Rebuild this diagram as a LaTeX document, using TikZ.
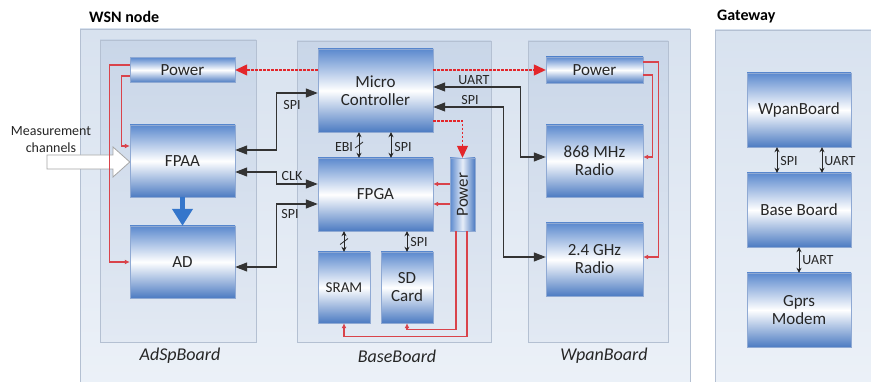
\documentclass[tikz,border=0pt]{standalone}
\usepackage{fontspec}
\setmainfont{Carlito}
\usetikzlibrary{arrows.meta,calc}
\definecolor{unittop}{HTML}{5B89CE}
\definecolor{unitbot}{HTML}{4C7BC2}
\definecolor{unitedge}{HTML}{8FA9D3}
\definecolor{outertop}{HTML}{D8E2EF}
\definecolor{outerbot}{HTML}{ECF1F8}
\definecolor{boardtop}{HTML}{C9D6E8}
\definecolor{boardbot}{HTML}{E2E9F3}
\definecolor{boxedge}{HTML}{B4C0D2}
\definecolor{pwrred}{HTML}{D9434B}
\definecolor{dashred}{HTML}{E3262B}
\definecolor{bigblue}{HTML}{3576CB}
\definecolor{txt}{HTML}{262626}
\begin{document}
\begin{tikzpicture}[x=1pt,y=-1pt,
  unit/.style={rectangle, draw=unitedge, line width=0.4pt, top color=unittop, bottom color=unitbot, middle color=white, text=txt, font=\fontsize{17}{19}\selectfont, align=center, inner sep=0pt},
  vunit/.style={rectangle, draw=unitedge, line width=0.4pt, left color=unittop, right color=unitbot, middle color=white!85!unittop, text=txt, font=\fontsize{17}{19}\selectfont, inner sep=0pt},
  lbl/.style={text=txt, font=\fontsize{14}{16}\selectfont, inner sep=0pt},
  boardlbl/.style={text=txt, font=\fontsize{18}{20}\selectfont\itshape, inner sep=0pt},
  title/.style={text=black, font=\fontsize{16}{18}\selectfont\bfseries, inner sep=0pt, anchor=west},
  outerbox/.style={draw=boxedge, line width=0.6pt, top color=outertop, bottom color=outerbot},
  boardbox/.style={draw=boxedge, line width=0.6pt, top color=boardtop, bottom color=boardbot},
  conn/.style={draw=black!80, line width=1.2pt, arrows={Triangle[length=12pt,width=9pt]-Triangle[length=12pt,width=9pt]}},
  pwr/.style={draw=pwrred, line width=1.2pt, arrows={-Latex[length=5pt,width=5pt]}},
  pwrd/.style={draw=dashred, line width=1.2pt, dash pattern=on 2.5pt off 1.5pt, arrows={-Triangle[length=12pt,width=11pt]}},
  bus/.style={draw=black!85, line width=0.8pt, arrows={Stealth[length=5pt,width=5pt]-Stealth[length=5pt,width=5pt]}},
  busmark/.style={draw=black!85, line width=0.8pt}
]
\useasboundingbox (0,0) rectangle (871,382);
\fill[white] (0,0) rectangle (871,382);

% boxes
\draw[outerbox] (80,29) rectangle (690,392);
\draw[outerbox] (715,30) rectangle (880,392);
\draw[boardbox] (100,40) rectangle (256,342);
\draw[boardbox] (297,41) rectangle (491,342);
\draw[boardbox] (528,41) rectangle (668,342);

% titles and board labels
\node[title] (twsn) at (89,17) {WSN node};
\node[title] (tgw) at (717,17) {Gateway};
\node[boardlbl] (ladsp) at (180,356) {AdSpBoard};
\node[boardlbl] (lbase) at (397,356) {BaseBoard};
\node[boardlbl] (lwpan) at (604,356) {WpanBoard};

% AdSpBoard
\node[unit, minimum width=105, minimum height=25] (lpower) at (182.5,70) {Power};
\node[unit, minimum width=105, minimum height=72] (fpaa) at (182.5,161) {FPAA};
\node[unit, minimum width=105, minimum height=72] (ad) at (182.5,262) {AD};

% BaseBoard
\node[unit, minimum width=115, minimum height=83] (mc) at (375.5,90.5) {Micro\\[-1pt]Controller};
\node[unit, minimum width=115, minimum height=73] (fpga) at (375.5,194.5) {FPGA};
\node[vunit, minimum width=25, minimum height=73] (pv) at (462.5,194.5) {\rotatebox{90}{Power}};
\node[unit, minimum width=52, minimum height=71, font=\fontsize{15}{17}\selectfont] (sram) at (344,287.5) {SRAM};
\node[unit, minimum width=52, minimum height=71] (sd) at (407,287.5) {SD\\[-1pt]Card};

% WpanBoard
\node[unit, minimum width=97, minimum height=26] (rpower) at (594.5,70) {Power};
\node[unit, minimum width=97, minimum height=72] (r868) at (594.5,161) {868 MHz\\[-1pt]Radio};
\node[unit, minimum width=97, minimum height=73] (r24) at (594.5,259.5) {2.4 GHz\\[-1pt]Radio};

% Gateway
\node[unit, minimum width=104, minimum height=74] (gw) at (799,110) {WpanBoard};
\node[unit, minimum width=104, minimum height=74] (gb) at (799,210) {Base Board};
\node[unit, minimum width=104, minimum height=74] (gm) at (799,310) {Gprs\\[-1pt]Modem};

% measurement channels
\node[lbl, align=center, font=\fontsize{14}{17}\selectfont] (meas) at (51,140) {Measurement\\channels};
\draw[draw=gray!70, fill=white, line width=0.8pt] (47,155) -- (113,155) -- (113,147) -- (fpaa.west |- 0,162) -- (113,177) -- (113,169) -- (47,169) -- cycle;

% FPAA -> AD
\draw[draw=bigblue, line width=5pt, arrows={-Triangle[length=17pt,width=20pt]}] (fpaa.south) -- (ad.north);

% black connectors
\draw[conn] ([yshift=11pt]fpaa.east) -- ++(41,0) |- ([yshift=-2.5pt]mc.west);
\draw[conn] ([yshift=-11pt]fpaa.east) -- ++(41,0) |- ([yshift=10.5pt]fpga.west);
\draw[conn] ([yshift=-5pt]ad.east) -- ++(41,0) |- ([yshift=-9.5pt]fpga.west);
\draw[conn] ([yshift=3.5pt]mc.east) -- ++(87,0) |- ([yshift=4pt]r868.west);
\draw[conn] ([yshift=-16.5pt]mc.east) -- ++(70,0) |- ([yshift=2.5pt]r24.west);
\node[lbl] (lspi1) at (292,105) {SPI};
\node[lbl] (lclk) at (292,176) {CLK};
\node[lbl] (lspi2) at (290,214) {SPI};
\node[lbl] (luart) at (474,80) {UART};
\node[lbl] (lspi3) at (470,100) {SPI};

% red power lines
\draw[pwrd] ([yshift=20.5pt]mc.west) -- (lpower.east);
\draw[pwrd] ([yshift=20.5pt]mc.east) -- (rpower.west);
\draw[pwrd] ([yshift=-30.5pt]mc.east) -| (pv.north);
\draw[pwr] ([yshift=5pt]lpower.west) -- ++(-20,0) |- (ad.west);
\draw[pwr] ([yshift=-6pt]lpower.west) -- ++(-8,0) |- ([yshift=15pt]fpaa.west);
\draw[pwr] ([yshift=8pt]rpower.east) -- ++(15,0) |- ([yshift=2.5pt]r24.east);
\draw[pwr] ([yshift=-5pt]rpower.east) -- ++(9,0) |- ([yshift=4pt]r868.east);
\draw[pwr] ([yshift=10.5pt]pv.west) -- ([yshift=10.5pt]fpga.east);
\draw[pwr] ([yshift=-9.5pt]pv.west) -- ([yshift=-9.5pt]fpga.east);
\draw[pwr] ([xshift=-6.5pt]pv.south) -- ++(0,98) -| (sd.south);
\draw[pwr] ([xshift=4.5pt]pv.south) -- ++(0,105) -| (sram.south);

% bus arrows
\draw[bus] ([xshift=-16.5pt]mc.south) -- coordinate (ebim) ([xshift=-16.5pt]fpga.north);
\draw[busmark] (ebim) ++(-4,3) -- ++(8,-6);
\draw[bus] ([xshift=15.5pt]mc.south) -- ([xshift=15.5pt]fpga.north);
\node[lbl] (lebi) at (344,147) {EBI};
\node[lbl] (lspi4) at (403,147) {SPI};
\draw[bus] (sram.north) -- coordinate (sramm) (sram.north |- fpga.south);
\draw[busmark] (sramm) ++(-4,3) -- ++(8,-6);
\draw[bus] (sd.north) -- (sd.north |- fpga.south);
\node[lbl] (lspi5) at (419,242) {SPI};

% gateway bus arrows
\draw[bus] ([xshift=-22pt]gw.south) -- ([xshift=-22pt]gb.north);
\draw[bus] ([xshift=23pt]gw.south) -- ([xshift=23pt]gb.north);
\draw[bus] (gb.south) -- (gm.north);
\node[lbl] (lgspi) at (789,161) {SPI};
\node[lbl] (lguart) at (840,161) {UART};
\node[lbl] (lguart2) at (818,260) {UART};
\end{tikzpicture}
\end{document}
